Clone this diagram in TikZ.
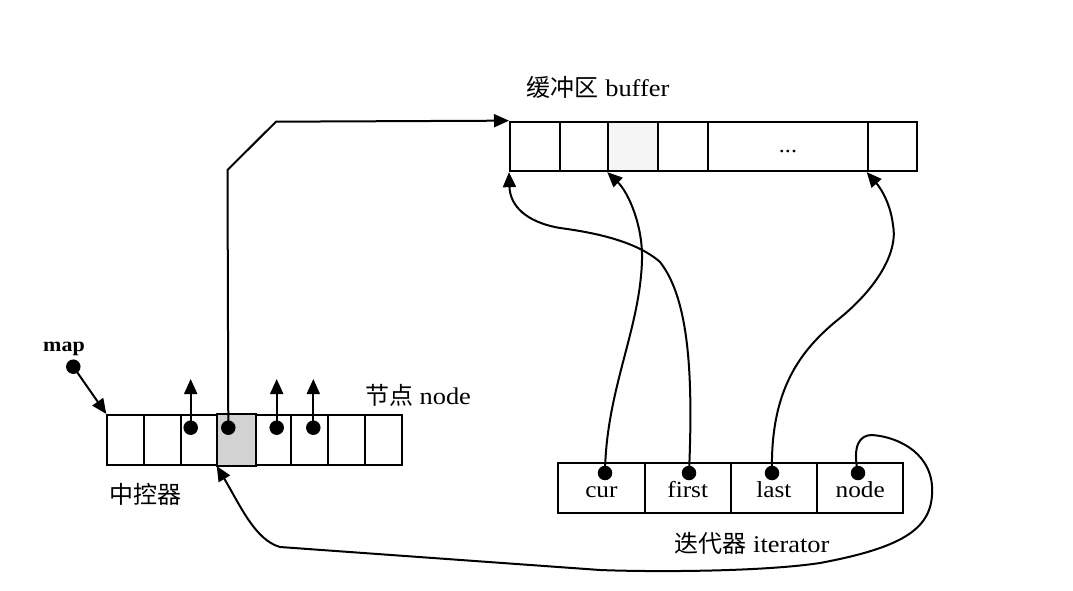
\documentclass[tikz,border=0pt]{standalone}
\usepackage{fontspec}
\setmainfont{Liberation Serif}[FakeStretch=1.1]
\newfontfamily\cjk{Noto Sans CJK SC}
\usetikzlibrary{arrows.meta}
\begin{document}
\begin{tikzpicture}[x=1pt,y=-1pt,
  cell/.style={draw,line width=2pt,inner sep=0pt,minimum height=49.5pt},
  dotnode/.style={circle,fill=black,inner sep=0pt,minimum size=14.5pt},
  conn/.style={line width=2pt,-{Triangle[length=15pt,width=13pt]}},
  lab/.style={font=\fontsize{24}{28}\selectfont,inner sep=0pt,anchor=base},
  itlab/.style={font=\fontsize{23}{27}\selectfont,text height=18.4pt,text depth=0pt}
]
\useasboundingbox (0,0) rectangle (1073,591);

% buffer
\node[cell,minimum width=50pt]   (b1) at (535,146.4) {};
\node[cell,minimum width=48.3pt] (b2) at (584.2,146.4) {};
\node[cell,minimum width=49.4pt,fill=gray!8] (b3) at (633,146.4) {};
\node[cell,minimum width=50.6pt] (b4) at (683,146.4) {};
\node[cell,minimum width=159.4pt,font=\fontsize{22}{24}\selectfont,text height=13pt,text depth=0pt] (b5) at (788,146.4) {...\hspace{26pt}};
\node[cell,minimum width=49pt]   (b6) at (892.2,146.4) {};
\node[lab] (buflab) at (598,97) {{\cjk 缓冲区} buffer};

% map (central controller)
\foreach \i in {1,...,8}{
  \node[cell,minimum width=36.8pt,minimum height=50pt] (m\i) at ({107.3+36.8*(\i-0.5)},440) {};
}
\fill[gray!35] (m4.north west) rectangle (m4.south east);
\draw[line width=2pt] (m4.north west) rectangle (m4.south east);
\node[lab] (nodelab) at (418,404) {{\cjk 节点} node};
\node[lab] (ctrllab) at (145.5,503) {\cjk 中控器};

\node[font=\bfseries\fontsize{20}{24}\selectfont,inner sep=0pt,anchor=base] (maplab) at (64,351) {map};
\node[dotnode] (mapd) at (73.3,366.7) {};
\draw[conn] (mapd.center) -- (m1.north west);

\node[dotnode] (m3d) at (190.7,427.7) {};
\node[dotnode] (m4d) at (228.3,427.7) {};
\node[dotnode] (m5d) at (276.7,427.7) {};
\node[dotnode] (m6d) at (313.3,427.7) {};
\coordinate (t3) at (190.7,379);
\coordinate (t5) at (276.7,379);
\coordinate (t6) at (313.3,379);
\draw[conn] (m3d.center) -- (t3);
\draw[conn] (m5d.center) -- (t5);
\draw[conn] (m6d.center) -- (t6);
\draw[conn] (m4d.center) -- (227.5,170) -- (276,121.7) -- (b1.north west);

% iterator
\node[cell,minimum width=86.25pt,itlab] (cur)   at (601.4,487.8) {cur};
\node[cell,minimum width=86.25pt,itlab] (first) at (687.7,487.8) {first};
\node[cell,minimum width=86.25pt,itlab] (last)  at (773.9,487.8) {last};
\node[cell,minimum width=86.25pt,itlab] (nd)    at (860.2,487.8) {node};
\node[lab] (itlabel) at (752,552) {{\cjk 迭代器} iterator};

\node[dotnode] (curd)   at (605,473) {};
\node[dotnode] (firstd) at (689,473) {};
\node[dotnode] (lastd)  at (772,473) {};
\node[dotnode] (ndd)    at (858,473) {};

\draw[conn] (curd.center) .. controls (606,390) and (640,330) .. (642,260)
  .. controls (643,225) and (628,192) .. (b3.south west);
\draw[conn] (firstd.center) .. controls (693,380) and (690,300) .. (660,262)
  .. controls (635,240) and (590,232) .. (560,228)
  .. controls (525,222) and (510,205) .. (b1.south west);
\draw[conn] (lastd.center) .. controls (770,390) and (800,350) .. (840,318)
  .. controls (880,285) and (898,250) .. (893,225)
  .. controls (890,200) and (878,185) .. (b6.south west);
\draw[conn] (ndd.center) .. controls (852,445) and (860,435) .. (872,435)
  .. controls (900,437) and (935,455) .. (932,495)
  .. controls (930,530) and (900,548) .. (820,563)
  .. controls (760,572) and (650,572) .. (600,570)
  -- (280,547)
  .. controls (255,540) and (240,505) .. (m4.south west);
\end{tikzpicture}
\end{document}
